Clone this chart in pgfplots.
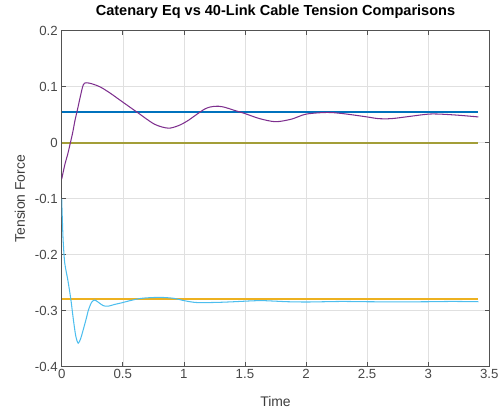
\documentclass[border=0pt]{standalone}
\usepackage{pgfplots}
\pgfplotsset{compat=1.18}
\usepackage{fontspec}
\setmainfont{Liberation Sans}
\usetikzlibrary{calc}

\definecolor{mblue}{rgb}{0,0.447,0.741}
\definecolor{morange}{rgb}{0.929,0.694,0.125}
\definecolor{mpurple}{rgb}{0.494,0.184,0.556}
\definecolor{mcyan}{rgb}{0.301,0.745,0.933}
\definecolor{molive}{rgb}{0.64,0.62,0.22}
\definecolor{axgray}{rgb}{0.15,0.15,0.15}

\begin{document}
\begin{tikzpicture}
\begin{axis}[
  scale only axis,
  width=427.6bp, height=336bp,
  xmin=0, xmax=3.5, ymin=-0.4, ymax=0.2,
  xtick={0,0.5,...,3.5},
  ytick={-0.4,-0.3,...,0.2},
  yticklabels={-0.4,-0.3,-0.2,-0.1,0,0.1,0.2},
  xticklabels={0,0.5,1,1.5,2,2.5,3,3.5},
  grid=major,
  major grid style={draw=black!12, line width=0.5pt},
  tick align=inside,
  major tick length=4.5bp,
  axis line style={draw=axgray!80, line width=0.6pt},
  every tick/.style={draw=axgray!80, line width=0.6pt},
  tick label style={font=\fontsize{13.3}{15}\selectfont, text=axgray!85},
  xticklabel style={yshift=1bp},
  yticklabel style={xshift=-0.5bp},
  /pgf/number format/assume math mode=true,
  title={\textbf{Catenary Eq vs 40-Link Cable Tension Comparisons}},
  title style={font=\fontsize{14.6}{16}\selectfont, at={(axis description cs:0.5,1.04)}, anchor=center},
  xlabel={Time},
  ylabel={Tension Force},
  label style={font=\fontsize{14}{16}\selectfont, text=axgray!90},
  xlabel style={at={(axis description cs:0.5,-0.104)}, anchor=center},
  ylabel style={at={(axis description cs:-0.0975,0.5)}, anchor=center},
  clip=true,
]
% catenary reference values
\addplot[mblue, line width=2.2pt] coordinates {(0,0.0553) (3.41,0.0553)};
\addplot[molive, line width=2.2pt] coordinates {(0,-0.0005) (3.41,-0.0005)};
\addplot[morange, line width=2.2pt] coordinates {(0,-0.2795) (3.41,-0.2795)};

% 40-link cable simulation, first end
\addplot[mpurple, line width=1.05pt, smooth, tension=0.5] coordinates {
 (0,-0.065) (0.027,-0.038) (0.05,-0.02) (0.068,-0.003) (0.09,0.018)
 (0.108,0.039) (0.13,0.06) (0.15,0.080) (0.176,0.103) (0.2,0.107)
 (0.25,0.105) (0.32,0.099) (0.4,0.088) (0.49,0.074) (0.62,0.054)
 (0.76,0.033) (0.87,0.026) (0.95,0.030) (1.03,0.039) (1.17,0.060)
 (1.25,0.065) (1.32,0.064) (1.41,0.058) (1.5,0.052) (1.62,0.043)
 (1.75,0.0375) (1.88,0.042) (2.0,0.051) (2.17,0.054) (2.3,0.052)
 (2.5,0.046) (2.59,0.043) (2.7,0.043) (2.85,0.047) (3.0,0.051)
 (3.1,0.051) (3.25,0.049) (3.41,0.046)
};

% 40-link cable simulation, second end
\addplot[mcyan, line width=1.05pt, smooth, tension=0.5] coordinates {
 (0,-0.100) (0.005,-0.135) (0.012,-0.175) (0.025,-0.215) (0.05,-0.245)
 (0.075,-0.28) (0.095,-0.315) (0.115,-0.345) (0.135,-0.358) (0.155,-0.35)
 (0.175,-0.335) (0.2,-0.315) (0.22,-0.298) (0.245,-0.285) (0.27,-0.281)
 (0.3,-0.285) (0.34,-0.291) (0.38,-0.292) (0.43,-0.289) (0.49,-0.286)
 (0.56,-0.282) (0.65,-0.278) (0.75,-0.2765) (0.84,-0.2765) (0.92,-0.278)
 (0.98,-0.281) (1.05,-0.284) (1.11,-0.2855) (1.2,-0.2855) (1.3,-0.285)
 (1.41,-0.284) (1.55,-0.2825) (1.64,-0.282) (1.75,-0.283) (1.85,-0.284)
 (2.0,-0.2845) (2.15,-0.284) (2.3,-0.2835) (2.5,-0.284) (2.75,-0.2842)
 (3.0,-0.284) (3.2,-0.2835) (3.41,-0.284)
};
\end{axis}
\pgfresetboundingbox
\path ($(current axis.south west)+(-61.7bp,-46.3bp)$) rectangle ($(current axis.north east)+(13.7bp,30.7bp)$);
\end{tikzpicture}
\end{document}
